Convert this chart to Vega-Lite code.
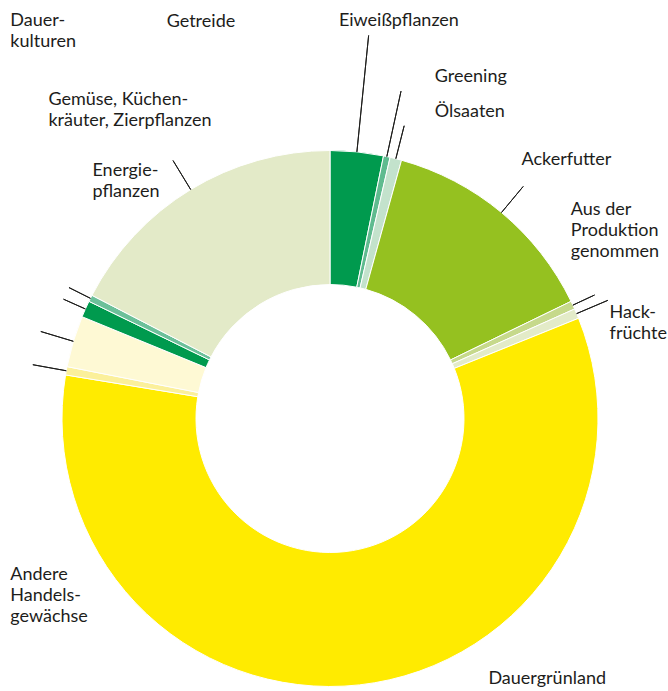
{
  "$schema": "https://vega.github.io/schema/vega-lite/v6.json",
  "autosize": {"type": "none"},
  "width": 660,
  "height": 545,
  "padding": {"left": 0, "top": 146, "right": 8, "bottom": 0},
  "background": "white",
  "config": {"view": {"stroke": null}, "text": {"font": "Lato", "fontSize": 18, "lineHeight": 21, "color": "#1d1d1b", "align": "left", "baseline": "alphabetic", "lineBreak": "\n", "radius": 268}},
  "data": {"values": [
    {"order": 1, "category": "Eiweißpflanzen", "label": "Eiweißpflanzen", "value": 3.2},
    {"order": 2, "category": "Greening", "label": "Greening", "value": 0.4},
    {"order": 3, "category": "Ölsaaten", "label": "Ölsaaten", "value": 0.7},
    {"order": 4, "category": "Ackerfutter", "label": "Ackerfutter", "value": 13.5},
    {"order": 5, "category": "Aus der Produktion genommen", "label": "Aus der\nProduktion\ngenommen", "value": 0.5},
    {"order": 6, "category": "Hackfrüchte", "label": "Hack-\nfrüchte", "value": 0.6},
    {"order": 7, "category": "Dauergrünland", "label": "Dauergrünland", "value": 58.7},
    {"order": 8, "category": "Andere Handelsgewächse", "label": "Andere\nHandels-\ngewächse", "value": 0.5},
    {"order": 9, "category": "Dauerkulturen", "label": "Dauer-\nkulturen", "value": 3.1},
    {"order": 10, "category": "Gemüse, Küchenkräuter, Zierpflanzen", "label": "Gemüse, Küchen-\nkräuter, Zierpflanzen", "value": 1.0},
    {"order": 11, "category": "Energiepflanzen", "label": "Energie-\npflanzen", "value": 0.4},
    {"order": 12, "category": "Getreide", "label": "Getreide", "value": 17.4}
  ]},
  "encoding": {
    "theta": {"field": "value", "type": "quantitative", "stack": true},
    "order": {"field": "order", "type": "quantitative"}
  },
  "layer": [
    {
      "mark": {"type": "arc", "outerRadius": 268, "innerRadius": 134, "stroke": "white", "strokeWidth": 1},
      "encoding": {
        "color": {"field": "category", "type": "nominal", "legend": null,
          "scale": {
            "domain": ["Eiweißpflanzen", "Greening", "Ölsaaten", "Ackerfutter", "Aus der Produktion genommen", "Hackfrüchte", "Dauergrünland", "Andere Handelsgewächse", "Dauerkulturen", "Gemüse, Küchenkräuter, Zierpflanzen", "Energiepflanzen", "Getreide"],
            "range": ["#009a4e", "#5fbb8f", "#c3e2cc", "#95c120", "#c6d98b", "#e3ebc8", "#ffeb00", "#fbf09b", "#fef9d4", "#009a4e", "#6cc09a", "#e3eac8"]
          }
        }
      }
    },
    {"mark": {"type": "arc", "filled": false, "fill": "transparent", "stroke": "#1d1d1b", "strokeWidth": 1, "padAngle": 3.1416, "innerRadius": 268, "outerRadius": 385},
     "encoding": {"strokeOpacity": {"condition": {"test": "datum.category === 'Eiweißpflanzen'", "value": 1}, "value": 0}}},
    {"mark": {"type": "arc", "filled": false, "fill": "transparent", "stroke": "#1d1d1b", "strokeWidth": 1, "padAngle": 3.1416, "innerRadius": 268, "outerRadius": 335},
     "encoding": {"strokeOpacity": {"condition": {"test": "datum.category === 'Greening'", "value": 1}, "value": 0}}},
    {"mark": {"type": "arc", "filled": false, "fill": "transparent", "stroke": "#1d1d1b", "strokeWidth": 1, "padAngle": 3.1416, "innerRadius": 268, "outerRadius": 302},
     "encoding": {"strokeOpacity": {"condition": {"test": "indexof(['Ölsaaten', 'Ackerfutter', 'Hackfrüchte', 'Andere Handelsgewächse', 'Dauerkulturen', 'Getreide'], datum.category) >= 0", "value": 1}, "value": 0}}},
    {"mark": {"type": "arc", "filled": false, "fill": "transparent", "stroke": "#1d1d1b", "strokeWidth": 1, "padAngle": 3.1416, "innerRadius": 268, "outerRadius": 292},
     "encoding": {"strokeOpacity": {"condition": {"test": "indexof(['Aus der Produktion genommen', 'Gemüse, Küchenkräuter, Zierpflanzen', 'Energiepflanzen'], datum.category) >= 0", "value": 1}, "value": 0}}},
    {"mark": {"type": "text", "dx": -18, "dy": -126},
     "encoding": {"text": {"condition": {"test": "datum.category === 'Eiweißpflanzen'", "field": "label"}, "value": ""}}},
    {"mark": {"type": "text", "dx": 48, "dy": -75},
     "encoding": {"text": {"condition": {"test": "datum.category === 'Greening'", "field": "label"}, "value": ""}}},
    {"mark": {"type": "text", "dx": 39, "dy": -42},
     "encoding": {"text": {"condition": {"test": "datum.category === 'Ölsaaten'", "field": "label"}, "value": ""}}},
    {"mark": {"type": "text", "dx": 20, "dy": -48},
     "encoding": {"text": {"condition": {"test": "datum.category === 'Ackerfutter'", "field": "label"}, "value": ""}}},
    {"mark": {"type": "text", "dx": -2, "dy": -90},
     "encoding": {"text": {"condition": {"test": "datum.category === 'Aus der Produktion genommen'", "field": "label"}, "value": ""}}},
    {"mark": {"type": "text", "dx": 33, "dy": 4},
     "encoding": {"text": {"condition": {"test": "datum.category === 'Hackfrüchte'", "field": "label"}, "value": ""}}},
    {"mark": {"type": "text", "dx": 129, "dy": -1},
     "encoding": {"text": {"condition": {"test": "datum.category === 'Dauergrünland'", "field": "label"}, "value": ""}}},
    {"mark": {"type": "text", "dx": -56, "dy": 209},
     "encoding": {"text": {"condition": {"test": "datum.category === 'Andere Handelsgewächse'", "field": "label"}, "value": ""}}},
    {"mark": {"type": "text", "dx": -63, "dy": -315},
     "encoding": {"text": {"condition": {"test": "datum.category === 'Dauerkulturen'", "field": "label"}, "value": ""}}},
    {"mark": {"type": "text", "dx": -37, "dy": -204},
     "encoding": {"text": {"condition": {"test": "datum.category === 'Gemüse, Küchenkräuter, Zierpflanzen'", "field": "label"}, "value": ""}}},
    {"mark": {"type": "text", "dx": 2, "dy": -122},
     "encoding": {"text": {"condition": {"test": "datum.category === 'Energiepflanzen'", "field": "label"}, "value": ""}}},
    {"mark": {"type": "text", "dx": -24, "dy": -163},
     "encoding": {"text": {"condition": {"test": "datum.category === 'Getreide'", "field": "label"}, "value": ""}}}
  ]
}
